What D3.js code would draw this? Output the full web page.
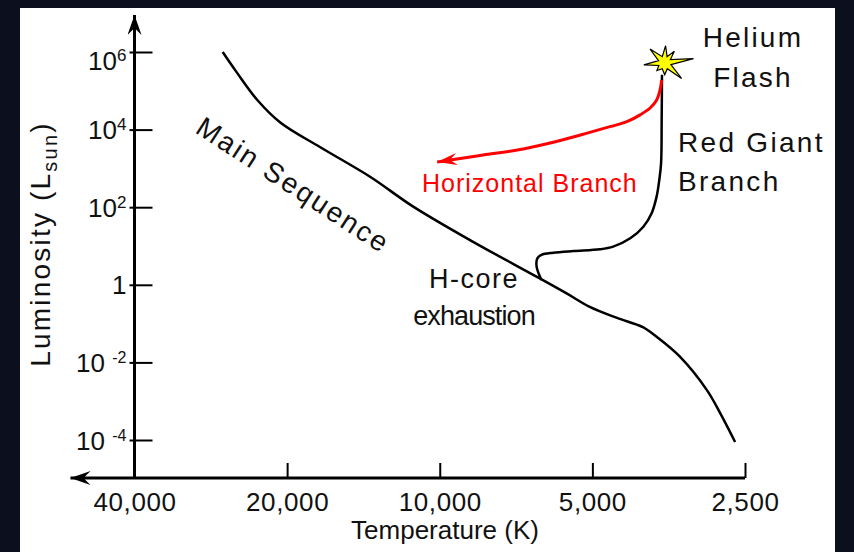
<!DOCTYPE html>
<html>
<head>
<meta charset="utf-8">
<script src="https://cdn.jsdelivr.net/npm/d3@7"></script>
<style>
  html, body { margin: 0; padding: 0; background: #0b0f1e; }
  svg { display: block; }
  text { font-family: Arial, "Liberation Sans", Helvetica, sans-serif; fill: #111; }
</style>
</head>
<body>
<svg id="graph"></svg>
<script>
// x軸 (温度, K)
var tempTicks = [40000, 20000, 10000, 5000, 2500];
var tempLabels = ["40,000", "20,000", "10,000", "5,000", "2,500"];
// y軸 (光度, L_sun)
var lumTicks = [1e6, 1e4, 1e2, 1, 1e-2, 1e-4];

// 主系列 [T, L]
var mainSequence = [
    [26800, 1.0e6], [25100, 2.9e5], [22900, 5.8e4], [20600, 1.5e4],
    [17200, 3500], [13700, 600], [11300, 105], [8700, 14],
    [6430, 1.6], [5620, 0.6], [5060, 0.27], [4470, 0.14],
    [3975, 0.081], [3730, 0.045], [3360, 0.014], [2970, 0.0019],
    [2800, 0.0005], [2615, 0.000089]
];
// 赤色巨星分枝
var redGiant = [
    [6300, 1.33], [6440, 2.9], [6420, 4.8], [6300, 5.9], [5970, 6.7],
    [5450, 7.4], [4830, 8.2], [4550, 9.6], [4210, 15.8], [3970, 31],
    [3820, 70], [3735, 187], [3690, 500], [3660, 1350], [3650, 17700],
    [3645, 2.6e5]
];
// 水平分枝
var horizontalBranch = [
    [3650, 1.9e5], [3677, 1.05e5], [3734, 5.8e4], [3847, 3.6e4],
    [4025, 2.4e4], [4275, 1.6e4], [4617, 1.19e4],
    [5213, 7600], [6059, 4520], [7030, 2980], [8210, 2210],
    [9540, 1640], [10120, 1460]
];
// ヘリウムフラッシュ
var heliumFlash = [3600, 5.3e5];

var W = 854, H = 552;
var svg = d3.select("#graph").attr("width", W).attr("height", H);

// 白いパネル
svg.append("rect").attr("x", 20).attr("y", 8).attr("width", 815).attr("height", H - 8).attr("fill", "#fff");

var x = d3.scaleLog().domain([40000, 2500]).range([134.5, 745]);
var y = d3.scaleLog().domain([1e6, 1e-4]).range([52, 440]);

var x0 = x(40000), yBase = y(1e-4) + 38;

// 矢印マーカー
var defs = svg.append("defs");
function marker(id, len, half, color) {
    defs.append("marker")
        .attr("id", id)
        .attr("markerUnits", "userSpaceOnUse")
        .attr("viewBox", (-len) + " " + (-half) + " " + (len + 2) + " " + (half * 2))
        .attr("refX", 0).attr("refY", 0)
        .attr("markerWidth", len + 2).attr("markerHeight", half * 2)
        .attr("orient", "auto")
        .append("path")
        .attr("d", "M0,0 L" + (-len) + "," + (-half) + " L" + (-len * 0.65) + ",0 L" + (-len) + "," + half + " Z")
        .attr("fill", color);
}
marker("arrowBlack", 20, 7, "#000");
marker("arrowRed", 20, 6, "#ff0000");

// 軸線
svg.append("line")
    .attr("x1", x(2500)).attr("x2", x0 - 64)
    .attr("y1", yBase).attr("y2", yBase)
    .attr("stroke", "#000").attr("stroke-width", 3)
    .attr("marker-end", "url(#arrowBlack)");
svg.append("line")
    .attr("x1", x0).attr("x2", x0)
    .attr("y1", yBase).attr("y2", y(1e6) - 37)
    .attr("stroke", "#000").attr("stroke-width", 3)
    .attr("marker-end", "url(#arrowBlack)");

// x軸
var gx = svg.append("g")
    .attr("transform", "translate(0," + yBase + ")")
    .call(d3.axisBottom(x)
        .tickValues(tempTicks)
        .tickFormat(function(d) { return tempLabels[tempTicks.indexOf(d)]; })
        .tickSize(-15)
        .tickPadding(15));
gx.select(".domain").remove();
gx.selectAll(".tick line").attr("stroke", "#000").attr("stroke-width", 2);
gx.selectAll(".tick text")
    .attr("font-size", 26).attr("fill", "#111")
    .style("letter-spacing", "0.6px")
    .style("font-family", "Arial, 'Liberation Sans', sans-serif");

// y軸
var gy = svg.append("g")
    .attr("transform", "translate(" + x0 + ",0)")
    .call(d3.axisLeft(y)
        .tickValues(lumTicks)
        .tickFormat("")
        .tickSize(-18)
        .tickPadding(8));
gy.select(".domain").remove();
gy.selectAll(".tick line").attr("x1", -5).attr("stroke", "#000").attr("stroke-width", 2);
gy.selectAll(".tick text").each(function(d) {
    var t = d3.select(this)
        .attr("font-size", 26).attr("fill", "#111")
        .attr("dy", null)
        .attr("y", d === d3.max(lumTicks) ? 17 : 9)
        .style("font-family", "Arial, 'Liberation Sans', sans-serif");
    var e = Math.round(Math.log10(d));
    if (e === 0) { t.text("1"); return; }
    t.append("tspan").text(e > 0 ? "10" : "10 ");
    t.append("tspan").attr("font-size", e > 0 ? 17 : 16).attr("dy", -9).text(e);
});

// 軸タイトル
svg.append("text")
    .attr("x", 445).attr("y", 539)
    .attr("text-anchor", "middle")
    .attr("font-size", 26)
    .text("Temperature (K)");

var ylab = svg.append("text")
    .attr("transform", "translate(50,244) rotate(-90)")
    .attr("text-anchor", "middle")
    .attr("font-size", 28)
    .style("letter-spacing", "2.2px");
ylab.append("tspan").text("Luminosity (L");
ylab.append("tspan").attr("font-size", 20).attr("dy", 7).text("sun");
ylab.append("tspan").attr("dy", -7).text(")");

// 曲線
var line = d3.line()
    .x(function(d) { return x(d[0]); })
    .y(function(d) { return y(d[1]); })
    .curve(d3.curveCatmullRom.alpha(0.5));

svg.append("path").datum(mainSequence)
    .attr("d", line).attr("fill", "none")
    .attr("stroke", "#000").attr("stroke-width", 2.5);
svg.append("path").datum(redGiant)
    .attr("d", line).attr("fill", "none")
    .attr("stroke", "#000").attr("stroke-width", 2.5);
svg.append("path").datum(horizontalBranch)
    .attr("d", line).attr("fill", "none")
    .attr("stroke", "#ff0000").attr("stroke-width", 3)
    .attr("marker-end", "url(#arrowRed)");

// 星印
var rays = [[-137, 20], [-87, 17], [-50, 15], [-8, 29], [43, 23], [90, 12], [135, 11], [174, 21]];
var pts = [];
rays.forEach(function(r, i) {
    var a = r[0] * Math.PI / 180;
    pts.push([r[1] * Math.cos(a), r[1] * Math.sin(a)]);
    var nxt = rays[(i + 1) % rays.length][0];
    if (nxt < r[0]) nxt += 360;
    var m = (r[0] + nxt) / 2 * Math.PI / 180;
    pts.push([6.5 * Math.cos(m), 6.5 * Math.sin(m)]);
});
svg.append("path")
    .attr("transform", "translate(" + x(heliumFlash[0]) + "," + y(heliumFlash[1]) + ")")
    .attr("d", "M" + pts.join("L") + "Z")
    .attr("fill", "#ffff00")
    .attr("stroke", "#000").attr("stroke-width", 1.2);

// 注記
function label(txt, px, py, anchor, size, ls, color) {
    return svg.append("text")
        .attr("x", px).attr("y", py)
        .attr("text-anchor", anchor)
        .attr("font-size", size)
        .style("letter-spacing", ls + "px")
        .style("fill", color || "#111")
        .text(txt);
}
label("Helium", 753, 47, "middle", 28, 2.2);
label("Flash", 753, 87, "middle", 28, 2.2);
label("Red Giant", 678, 152, "start", 28, 2.3);
label("Branch", 678, 191, "start", 28, 2.3);
label("Horizontal Branch", 422, 192, "start", 25, 1, "#ff0000");
label("H-core", 474, 288, "middle", 27, 1.5);
label("exhaustion", 474, 325, "middle", 27, -0.9);

svg.append("text")
    .attr("transform", "translate(194,132) rotate(33)")
    .attr("font-size", 28)
    .style("letter-spacing", "2.3px")
    .text("Main Sequence");
</script>
</body>
</html>
